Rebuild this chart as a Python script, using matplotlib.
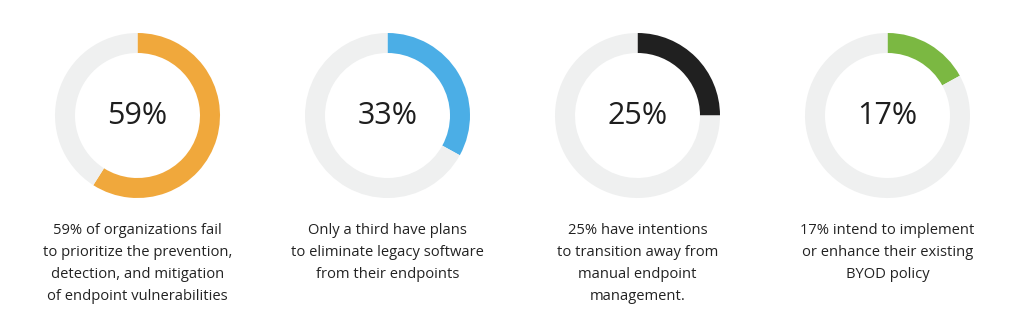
import matplotlib
matplotlib.use("Agg")
import matplotlib.pyplot as plt

values = [59, 33, 25, 17]
labels = ["59%", "33%", "25%", "17%"]
captions = [
    "59% of organizations fail\nto prioritize the prevention,\ndetection, and mitigation\nof endpoint vulnerabilities",
    "Only a third have plans\nto eliminate legacy software\nfrom their endpoints",
    "25% have intentions\nto transition away from\nmanual endpoint\nmanagement.",
    "17% intend to implement\nor enhance their existing\nBYOD policy",
]
colors = ["#F0A83C", "#4BAEE6", "#202020", "#7BB842"]
track = "#EFF0F0"

W, H = 1024, 334
fig = plt.figure(figsize=(W / 100, H / 100), dpi=100)
ax = fig.add_axes([0, 0, 1, 1])
ax.set_xlim(0, W)
ax.set_ylim(H, 0)
ax.set_aspect("equal")
ax.axis("off")

centers_x = [137.5, 387.5, 637.5, 887.5]
cy = 115.5
R = 82.5
ring = 20

for v, lab, cap, col, cx in zip(values, labels, captions, colors, centers_x):
    # y axis inverted: use counterclock=True so it goes visually clockwise
    ax.pie([v, 100 - v], colors=[col, track], startangle=-90, counterclock=True,
           center=(cx, cy), radius=R, frame=True,
           wedgeprops=dict(width=ring, edgecolor="none", linewidth=0))
    ax.text(cx, cy + 1, lab, ha="center", va="center", fontsize=22,
            family="Open Sans", color="#1e1e1e")
    ax.text(cx, 223, cap, ha="center", va="top", fontsize=10.6,
            family="Open Sans", color="#222222", linespacing=1.65)

ax.set_xlim(0, W)
ax.set_ylim(H, 0)
ax.axis("off")
fig.savefig("out.png", dpi=100, facecolor="white")
